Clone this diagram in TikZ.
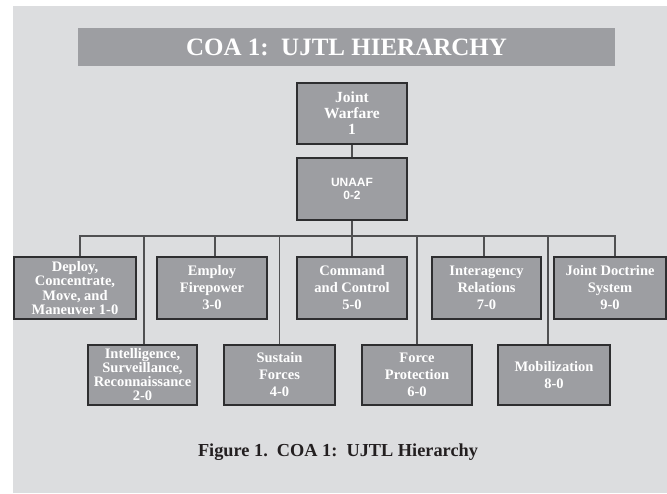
\documentclass[tikz,border=0pt]{standalone}
\usepackage{fontspec}
\setmainfont{Liberation Serif}
\newfontfamily\unaaffont{Liberation Sans}
\definecolor{pagegray}{HTML}{DCDDDF}
\definecolor{boxgray}{HTML}{9D9EA2}
\definecolor{boxedge}{HTML}{2E2E30}
\definecolor{linkgray}{HTML}{505052}
\definecolor{captiontext}{HTML}{231F20}
\tikzset{
  taskbox/.style={draw=boxedge, fill=boxgray, line width=1.1pt, text=white,
    align=center, inner sep=0pt, minimum width=110pt, minimum height=62pt,
    font=\fontsize{14.5}{17}\selectfont\bfseries},
  link/.style={draw=linkgray, line width=1.4pt}
}
\begin{document}
\begin{tikzpicture}[x=1pt,y=-1pt]

% Page and background
\useasboundingbox (0,0) rectangle (667,493);
\fill[pagegray] (13,6) rectangle (667,493);

% Title banner
\node[fill=boxgray, minimum width=537pt, minimum height=38pt, inner sep=0pt,
  text=white, font=\fontsize{25}{28}\selectfont\bfseries] (banner) at (346.5,47)
  {COA 1:\ \ UJTL HIERARCHY};

% Top of the hierarchy
\node[taskbox, minimum height=61pt, font=\fontsize{15.5}{16}\selectfont\bfseries]
  (joint) at (352,113.5) {Joint\\Warfare\\1};
\node[taskbox, font=\fontsize{12}{13}\selectfont\unaaffont\bfseries]
  (unaaf) at (352,189) {UNAAF\\0-2};

% Upper row of tasks
\node[taskbox, minimum width=122pt, font=\fontsize{14.5}{14.3}\selectfont\bfseries]
  (deploy) at (75,288) {Deploy,\\Concentrate,\\Move, and\\Maneuver 1-0};
\node[taskbox] (employ) at (212,288) {Employ\\Firepower\\3-0};
\node[taskbox] (command) at (352,288) {Command\\and Control\\5-0};
\node[taskbox, minimum width=109pt] (interagency) at (486.5,288) {Interagency\\Relations\\7-0};
\node[taskbox, minimum width=112pt] (doctrine) at (610,288) {Joint Doctrine\\System\\9-0};

% Lower row of tasks
\node[taskbox, minimum width=109pt, minimum height=60pt,
  font=\fontsize{14.5}{14}\selectfont\bfseries]
  (intel) at (142.5,375) {Intelligence,\\Surveillance,\\Reconnaissance\\2-0};
\node[taskbox, minimum width=111pt, minimum height=60pt] (sustain) at (279.5,375) {Sustain\\Forces\\4-0};
\node[taskbox, minimum height=60pt] (force) at (417,375) {Force\\Protection\\6-0};
\node[taskbox, minimum width=112pt, minimum height=60pt] (mobil) at (554,375) {Mobilization\\8-0};

% Connectors
\coordinate (bus) at (352,236);
\draw[link] (joint) -- (unaaf);
\draw[link] (unaaf) -- (command);
\draw[link] ([xshift=5pt]deploy.north) |- (bus) -| ([xshift=5pt]doctrine.north);
\draw[link] ([xshift=1.5pt]intel.north) -- ([xshift=1.5pt]intel.north |- bus);
\draw[link] ([xshift=3pt]employ.north) -- ([xshift=3pt]employ.north |- bus);
\draw[link] (sustain.north) -- (sustain.north |- bus);
\draw[link] (force.north) -- (force.north |- bus);
\draw[link] ([xshift=-2.5pt]interagency.north) -- ([xshift=-2.5pt]interagency.north |- bus);
\draw[link] ([xshift=-6pt]mobil.north) -- ([xshift=-6pt]mobil.north |- bus);

% Caption
\node[text=captiontext, font=\fontsize{18.3}{20}\selectfont\bfseries] (caption)
  at (338,452) {Figure 1.\ \ COA 1:\ \ UJTL Hierarchy};

\end{tikzpicture}
\end{document}
